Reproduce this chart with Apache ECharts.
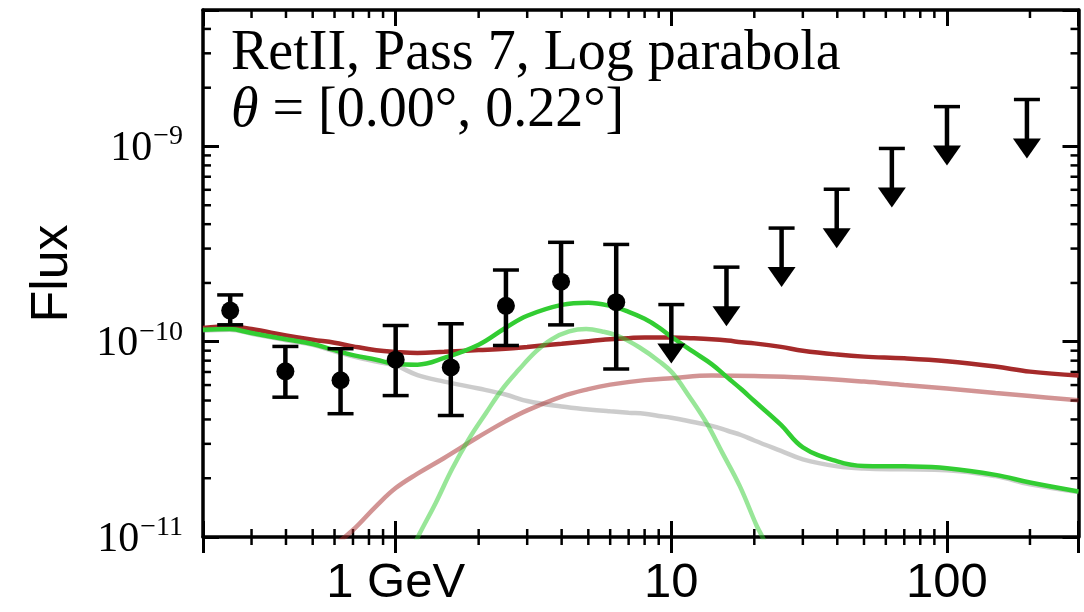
<!DOCTYPE html>
<html>
<head>
<meta charset="utf-8">
<script src="https://cdn.jsdelivr.net/npm/echarts@6/dist/echarts.min.js"></script>
<style>
html, body { margin: 0; padding: 0; background: #fff; }
#chart { width: 1084px; height: 612px; }
</style>
</head>
<body>
<div id="chart"></div>
<script>
// axis ranges and ticks
var xMin = 0.2, xMax = 300;
var yMin = 1e-11, yMax = 5e-9;
var xTickValues = [1, 10, 100];
var xTickLabels = ['1 GeV', '10', '100'];
var yTickValues = [1e-11, 1e-10, 1e-9];
var yTickExps = ['\u221211', '\u221210', '\u22129'];
var xMinorTicks = [0.3, 0.4, 0.5, 0.6, 0.7, 0.8, 0.9, 2, 3, 4, 5, 6, 7, 8, 9,
  20, 30, 40, 50, 60, 70, 80, 90, 200];
var yMinorTicks = [2e-11, 3e-11, 4e-11, 5e-11, 6e-11, 7e-11, 8e-11, 9e-11,
  2e-10, 3e-10, 4e-10, 5e-10, 6e-10, 7e-10, 8e-10, 9e-10, 2e-9, 3e-9, 4e-9];

// model curves (energy in GeV)
var modelE = [0.2, 0.25, 0.3, 0.4, 0.5, 0.6, 0.7, 0.85, 1, 1.2, 1.5, 2, 2.5, 3, 4, 5, 6, 7, 8, 9,
  10, 12, 14, 16, 18, 20, 25, 30, 40, 50, 70, 100, 150, 200, 300];
var totalFlux = [1.176e-10, 1.196e-10, 1.161e-10, 1.078e-10, 1.024e-10, 9.88e-11, 9.47e-11, 9.05e-11,
  8.87e-11, 8.76e-11, 8.88e-11, 9.06e-11, 9.21e-11, 9.41e-11, 9.77e-11, 1.007e-10, 1.029e-10,
  1.043e-10, 1.052e-10, 1.052e-10, 1.052e-10, 1.042e-10, 1.030e-10, 1.014e-10, 9.94e-11, 9.81e-11,
  9.41e-11, 9.00e-11, 8.60e-11, 8.39e-11, 8.23e-11, 7.95e-11, 7.46e-11, 7.03e-11, 6.71e-11];
var fitFlux = [1.151e-10, 1.161e-10, 1.108e-10, 1.029e-10, 9.74e-11, 9.05e-11, 8.54e-11, 8.09e-11,
  7.69e-11, 7.63e-11, 8.26e-11, 9.65e-11, 1.176e-10, 1.358e-10, 1.544e-10, 1.585e-10, 1.526e-10,
  1.422e-10, 1.310e-10, 1.186e-10, 1.061e-10, 8.89e-11, 7.68e-11, 6.55e-11, 5.69e-11, 4.97e-11,
  3.75e-11, 2.88e-11, 2.44e-11, 2.31e-11, 2.30e-11, 2.25e-11, 2.08e-11, 1.90e-11, 1.71e-11];
var bkgFlux = [1.138e-10, 1.151e-10, 1.099e-10, 1.018e-10, 9.65e-11, 8.94e-11, 8.43e-11, 7.91e-11,
  7.54e-11, 6.75e-11, 6.25e-11, 5.76e-11, 5.37e-11, 4.97e-11, 4.66e-11, 4.50e-11, 4.40e-11,
  4.33e-11, 4.28e-11, 4.17e-11, 4.08e-11, 3.88e-11, 3.71e-11, 3.50e-11, 3.32e-11, 3.12e-11,
  2.76e-11, 2.50e-11, 2.30e-11, 2.24e-11, 2.22e-11, 2.20e-11, 2.05e-11, 1.86e-11, 1.70e-11];
var diffuseE = [0.6, 0.7, 0.85, 1, 1.2, 1.5, 2, 2.5, 3, 4, 5, 6, 8, 10, 14, 20, 30, 50, 70, 100, 150, 200, 300];
var diffuseFlux = [9.1e-12, 1.086e-11, 1.44e-11, 1.78e-11, 2.11e-11, 2.54e-11, 3.26e-11, 3.91e-11,
  4.45e-11, 5.24e-11, 5.72e-11, 6.03e-11, 6.36e-11, 6.51e-11, 6.71e-11, 6.67e-11, 6.55e-11,
  6.25e-11, 6.00e-11, 5.76e-11, 5.46e-11, 5.27e-11, 5.02e-11];
var parabolaE = [1.12, 1.21, 1.40, 1.60, 1.84, 2.13, 2.43, 2.80, 3.23, 3.69, 4.26, 4.91, 5.61,
  6.47, 7.65, 9.05, 10.1, 11.6, 13.4, 15.3, 17.7, 20.4, 21.3, 22.7];
var parabolaFlux = [8.07e-12, 1.015e-11, 1.503e-11, 2.223e-11, 3.162e-11, 4.327e-11, 5.69e-11,
  7.20e-11, 8.92e-11, 1.032e-10, 1.129e-10, 1.161e-10, 1.129e-10, 1.064e-10, 9.37e-11, 7.93e-11,
  6.92e-11, 5.26e-11, 3.85e-11, 2.705e-11, 1.827e-11, 1.142e-11, 1.015e-11, 8.39e-12];

// measured points with error bars
var pointE = [0.251, 0.398, 0.631, 1.0, 1.585, 2.512, 3.981, 6.310];
var pointFlux = [1.445e-10, 7.06e-11, 6.35e-11, 8.09e-11, 7.39e-11, 1.527e-10, 2.03e-10, 1.595e-10];
var pointLow = [1.221e-10, 5.20e-11, 4.28e-11, 5.30e-11, 4.19e-11, 9.57e-11, 1.22e-10, 7.25e-11];
var pointHigh = [1.737e-10, 9.46e-11, 9.21e-11, 1.211e-10, 1.236e-10, 2.33e-10, 3.23e-10, 3.15e-10];

// upper limits
var ulE = [10.0, 15.85, 25.12, 39.81, 63.10, 100.0, 195];
var ulFlux = [1.55e-10, 2.41e-10, 3.82e-10, 6.04e-10, 9.77e-10, 1.60e-9, 1.74e-9];

function zip(xs, ys) {
  return xs.map(function (x, i) { return [x, ys[i]]; });
}
function sameTick(a, b) {
  return Math.abs(a - b) / b < 1e-6;
}

var black = '#000';

function xAxisBase(pos, inside, withLine, withLabel) {
  return {
    type: 'log', logBase: 10, min: xMin, max: xMax, position: pos,
    axisLine: { show: withLine, onZero: false, lineStyle: { color: black, width: 3.5 } },
    axisTick: { show: true, inside: inside, length: 16, lineStyle: { color: black, width: 3 } },
    splitLine: { show: false },
    axisLabel: {
      show: withLabel, color: black, fontFamily: 'Liberation Sans', fontSize: 49, margin: 22,
      formatter: function (v) {
        for (var i = 0; i < xTickValues.length; i++) {
          if (sameTick(v, xTickValues[i])) return xTickLabels[i];
        }
        return '';
      }
    }
  };
}

function yAxisBase(pos, withLabel) {
  return {
    type: 'log', logBase: 10, min: yMin, max: yMax, position: pos,
    axisLine: { show: true, onZero: false, lineStyle: { color: black, width: 3.5 } },
    axisTick: { show: true, inside: true, length: 16, lineStyle: { color: black, width: 3 } },
    splitLine: { show: false },
    axisLabel: {
      show: withLabel, margin: 20,
      formatter: function (v) {
        for (var i = 0; i < yTickValues.length; i++) {
          if (sameTick(v, yTickValues[i])) return '{b|10}{s|' + yTickExps[i] + '}';
        }
        return '';
      },
      rich: {
        b: { fontFamily: 'Liberation Serif', fontSize: 42, color: black, verticalAlign: 'bottom' },
        s: { fontFamily: 'Liberation Serif', fontSize: 28, color: black, verticalAlign: 'bottom', padding: [0, 0, 19, 1] }
      }
    }
  };
}

var yLeft = yAxisBase('left', true);
yLeft.name = 'Flux';
yLeft.nameLocation = 'middle';
yLeft.nameGap = 124;
yLeft.nameTextStyle = { fontFamily: 'Liberation Sans', fontSize: 52, color: black };

function renderXMinor(params, api) {
  var b = api.coord([api.value(0), yMin]);
  var t = api.coord([api.value(0), yMax]);
  var st = { stroke: black, lineWidth: 2.5 };
  return {
    type: 'group', children: [
      { type: 'line', shape: { x1: b[0], y1: b[1] - 8, x2: b[0], y2: b[1] + 8 }, style: st },
      { type: 'line', shape: { x1: t[0], y1: t[1], x2: t[0], y2: t[1] + 8 }, style: st }
    ]
  };
}
function renderYMinor(params, api) {
  var l = api.coord([xMin, api.value(1)]);
  var r = api.coord([xMax, api.value(1)]);
  var st = { stroke: black, lineWidth: 2.5 };
  return {
    type: 'group', children: [
      { type: 'line', shape: { x1: l[0], y1: l[1], x2: l[0] + 8, y2: l[1] }, style: st },
      { type: 'line', shape: { x1: r[0] - 8, y1: r[1], x2: r[0], y2: r[1] }, style: st }
    ]
  };
}

function renderPoint(params, api) {
  var e = api.value(0);
  var p = api.coord([e, api.value(1)]);
  var lo = api.coord([e, api.value(2)]);
  var hi = api.coord([e, api.value(3)]);
  var cw = 13;
  var cap = { stroke: black, lineWidth: 3.5 };
  return {
    type: 'group', children: [
      { type: 'line', shape: { x1: p[0], y1: hi[1], x2: p[0], y2: lo[1] }, style: { stroke: black, lineWidth: 4.5 } },
      { type: 'line', shape: { x1: p[0] - cw, y1: hi[1], x2: p[0] + cw, y2: hi[1] }, style: cap },
      { type: 'line', shape: { x1: p[0] - cw, y1: lo[1], x2: p[0] + cw, y2: lo[1] }, style: cap },
      { type: 'circle', shape: { cx: p[0], cy: p[1], r: 9 }, style: { fill: black } }
    ]
  };
}

function renderLimit(params, api) {
  var c = api.coord([api.value(0), api.value(1)]);
  var len = 59, hh = 20, hw = 14;
  return {
    type: 'group', children: [
      { type: 'line', shape: { x1: c[0] - 13, y1: c[1], x2: c[0] + 13, y2: c[1] }, style: { stroke: black, lineWidth: 3.5 } },
      { type: 'line', shape: { x1: c[0], y1: c[1], x2: c[0], y2: c[1] + len - hh + 1 }, style: { stroke: black, lineWidth: 4.5 } },
      { type: 'polygon', shape: { points: [[c[0] - hw, c[1] + len - hh], [c[0] + hw, c[1] + len - hh], [c[0], c[1] + len]] }, style: { fill: black } }
    ]
  };
}

function curve(name, xs, ys, color) {
  return {
    name: name, type: 'line', data: zip(xs, ys), showSymbol: false, symbol: 'none',
    smooth: 0.4, lineStyle: { color: color, width: 4.5 }, emphasis: { disabled: true },
    xAxisIndex: 0, yAxisIndex: 0
  };
}

var option = {
  animation: false,
  backgroundColor: '#fff',
  title: {
    text: 'RetII, Pass 7, Log parabola\n{i|\u03b8} = [0.00\u00b0, 0.22\u00b0]',
    left: 226, top: 21,
    textStyle: {
      fontFamily: 'Liberation Serif', fontSize: 56, fontWeight: 'normal', color: black, lineHeight: 57,
      rich: { i: { fontFamily: 'Liberation Serif', fontStyle: 'italic', fontSize: 56, lineHeight: 57, color: black } }
    }
  },
  grid: { left: 203, right: 5.5, top: 10, bottom: 75 },
  xAxis: [
    xAxisBase('bottom', true, true, true),
    xAxisBase('bottom', false, false, false),
    xAxisBase('top', true, true, false)
  ],
  yAxis: [
    yLeft,
    yAxisBase('right', false)
  ],
  series: [
    curve('background', modelE, bkgFlux, 'rgba(128,128,128,0.4)'),
    curve('diffuse', diffuseE, diffuseFlux, 'rgba(165,42,42,0.5)'),
    curve('total', modelE, totalFlux, '#a52a2a'),
    curve('log parabola', parabolaE, parabolaFlux, 'rgba(50,205,50,0.5)'),
    curve('fit', modelE, fitFlux, '#32cd32'),
    {
      type: 'custom', renderItem: renderXMinor, silent: true,
      data: xMinorTicks.map(function (v) { return [v, yMin]; })
    },
    {
      type: 'custom', renderItem: renderYMinor, silent: true,
      data: yMinorTicks.map(function (v) { return [xMin, v]; })
    },
    {
      type: 'custom', renderItem: renderPoint, silent: true, z: 5,
      encode: { x: 0, y: 1 },
      data: pointE.map(function (e, i) { return [e, pointFlux[i], pointLow[i], pointHigh[i]]; })
    },
    {
      type: 'custom', renderItem: renderLimit, silent: true, z: 5,
      data: zip(ulE, ulFlux)
    }
  ]
};

var myChart = echarts.init(document.getElementById('chart'));
myChart.setOption(option);
</script>
</body>
</html>
